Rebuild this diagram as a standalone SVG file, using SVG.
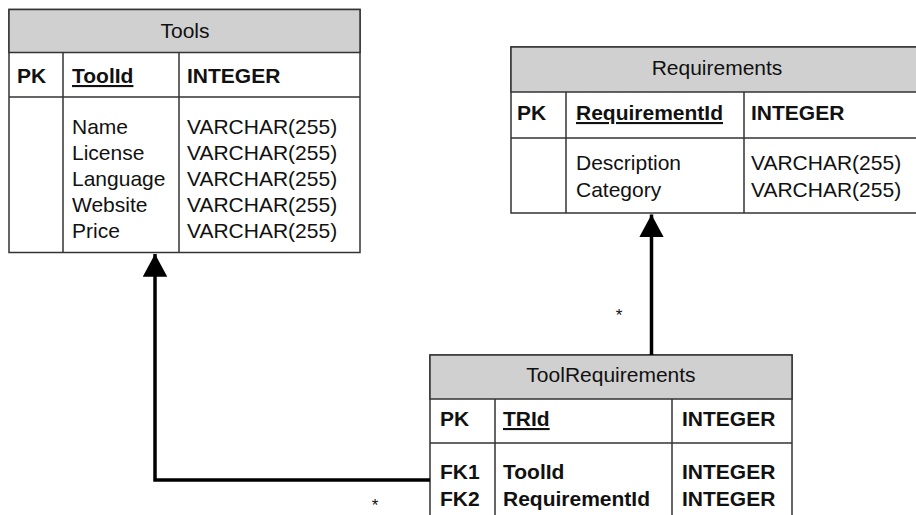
<svg xmlns="http://www.w3.org/2000/svg" width="916" height="515" viewBox="0 0 916 515">
<style>
.box{fill:#fff;stroke:#333;stroke-width:1.5}
.hdr{fill:#d0d0d0;stroke:#333;stroke-width:1.5}
.ln{stroke:#333;stroke-width:1.5;fill:none}
text{font-family:"Liberation Sans",Arial,sans-serif;font-size:21px;fill:#111}
.b{font-weight:bold}
.u{text-decoration:underline}
.t{text-anchor:middle}
.conn{stroke:#000;stroke-width:3.5;fill:none}
.star{font-size:17px;text-anchor:middle}
</style>
<defs>
<marker id="arr" markerWidth="7" markerHeight="7" refX="6.5" refY="3.5" orient="auto" markerUnits="strokeWidth">
<path d="M0,0 L6.5,3.5 L0,7 Z" fill="#000"/>
</marker>
<clipPath id="clipR"><rect x="0" y="0" width="908" height="515"/></clipPath>
</defs>
<rect width="916" height="515" fill="#fff"/>

<g id="tools">
<rect class="box" x="9" y="9.5" width="351" height="243"/>
<rect class="hdr" x="9" y="9.5" width="351" height="43"/>
<line class="ln" x1="9" y1="97" x2="360" y2="97"/>
<line class="ln" x1="63" y1="52.5" x2="63" y2="252.5"/>
<line class="ln" x1="179" y1="52.5" x2="179" y2="252.5"/>
<text class="t" x="185" y="38">Tools</text>
<text class="b" x="17" y="83">PK</text>
<text class="b u" x="72" y="83">ToolId</text>
<text class="b" x="187" y="83">INTEGER</text>
<text x="72" y="134">Name</text>
<text x="72" y="160">License</text>
<text x="72" y="186">Language</text>
<text x="72" y="212">Website</text>
<text x="72" y="238">Price</text>
<text x="187" y="134">VARCHAR(255)</text>
<text x="187" y="160">VARCHAR(255)</text>
<text x="187" y="186">VARCHAR(255)</text>
<text x="187" y="212">VARCHAR(255)</text>
<text x="187" y="238">VARCHAR(255)</text>
</g>

<g id="requirements">
<rect class="box" x="511" y="47" width="415" height="166"/>
<rect class="hdr" x="511" y="47" width="415" height="45"/>
<line class="ln" x1="511" y1="138" x2="916" y2="138"/>
<line class="ln" x1="566" y1="92" x2="566" y2="213"/>
<line class="ln" x1="744" y1="92" x2="744" y2="213"/>
<text class="t" x="717" y="75">Requirements</text>
<text class="b" x="517" y="120">PK</text>
<text class="b u" x="576" y="120">RequirementId</text>
<text class="b" x="751" y="120">INTEGER</text>
<text x="576" y="170">Description</text>
<text x="576" y="197">Category</text>
<g clip-path="url(#clipR)">
<text x="751" y="170">VARCHAR(255)</text>
<text x="751" y="197">VARCHAR(255)</text>
</g>
</g>

<g id="toolrequirements">
<rect class="box" x="430" y="355" width="362" height="175"/>
<rect class="hdr" x="430" y="355" width="362" height="44"/>
<line class="ln" x1="430" y1="443" x2="792" y2="443"/>
<line class="ln" x1="495" y1="399" x2="495" y2="530"/>
<line class="ln" x1="672" y1="399" x2="672" y2="530"/>
<text class="t" x="611" y="382">ToolRequirements</text>
<text class="b" x="440" y="426">PK</text>
<text class="b u" x="503" y="426">TRId</text>
<text class="b" x="682" y="426">INTEGER</text>
<text class="b" x="440" y="479">FK1</text>
<text class="b" x="440" y="506">FK2</text>
<text class="b" x="503" y="479">ToolId</text>
<text class="b" x="503" y="506">RequirementId</text>
<text class="b" x="682" y="479">INTEGER</text>
<text class="b" x="682" y="506">INTEGER</text>
</g>

<g id="connectors">
<path class="conn" d="M430,480 L155,480 L155,254" marker-end="url(#arr)"/>
<path class="conn" d="M651.5,355 L651.5,214.5" marker-end="url(#arr)"/>
<text class="star" x="375" y="511">*</text>
<text class="star" x="619" y="321">*</text>
</g>
</svg>
